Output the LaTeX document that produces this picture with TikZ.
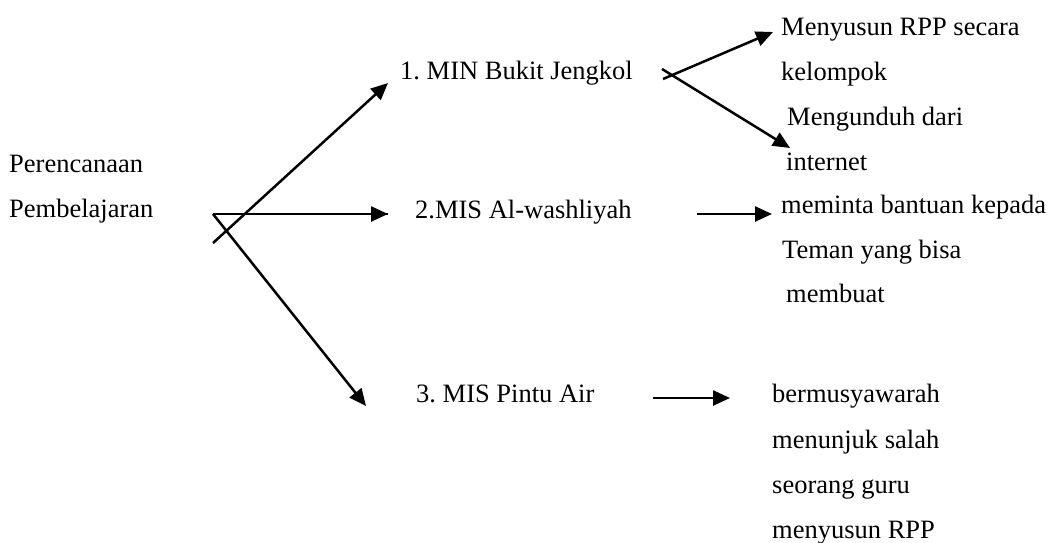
\documentclass[tikz,border=0pt]{standalone}
\usepackage{fontspec}
\setmainfont{Liberation Serif}
\usetikzlibrary{arrows.meta,positioning}
\tikzset
{
    textnode/.style = {anchor=base west, inner sep=0pt, font=\fontsize{26.5}{45}\selectfont},
    arrowline/.style = {line width=2.5pt, -{Triangle[length=17pt,width=15pt]}},
    plainline/.style = {line width=2.5pt}
}

\begin{document}
\frenchspacing
\begin{tikzpicture}[x=1pt, y=-1pt]
\useasboundingbox (0,0) rectangle (1048,542);
% left side
\node[textnode] (perencanaan) at (9,172) {Perencanaan};
\node[textnode] (pembelajaran) at (9,217) {Pembelajaran};
% schools
\node[textnode] (min) at (400,79) {1. MIN Bukit Jengkol};
\node[textnode] (mis1) at (415,218) {2.MIS Al-washliyah};
\node[textnode] (mis2) at (416,402) {3. MIS Pintu Air};
% answers
\node[textnode] (rppA) at (781,35) {Menyusun RPP secara};
\node[textnode] (rppB) at (781,80) {kelompok};
\node[textnode] (unduhA) at (787,125) {Mengunduh dari};
\node[textnode] (unduhB) at (786,170) {internet};
\node[textnode] (mintaA) at (781,213) {meminta bantuan kepada};
\node[textnode] (mintaB) at (782,258) {Teman yang bisa};
\node[textnode] (mintaC) at (786,302) {membuat};
\node[textnode] (musyA) at (772,402) {bermusyawarah};
\node[textnode] (musyB) at (772,448) {menunjuk salah};
\node[textnode] (musyC) at (772,493) {seorang guru};
\node[textnode] (musyD) at (772,538) {menyusun RPP};
% arrow ends
\coordinate (fanA) at (213,214);
\coordinate (fanB) at (213,243);
\coordinate (tipMin) at (388,83);
\coordinate (tipMis1) at (388,214);
\coordinate (tipMis2) at (366,406);
\coordinate (fanC) at (663,79);
\coordinate (fanD) at (662,69);
\coordinate (tipRpp) at (773,32);
\coordinate (tipUnduh) at (790,148);
\coordinate (fromMis1) at (697,214);
\coordinate (tipMinta) at (772,214);
\coordinate (fromMis2) at (653,398);
\coordinate (tipMusy) at (730,398);
% connectors
\draw[plainline] (fanA) -- (fanA -| tipMis1);
\draw[arrowline] (fanB) -- (tipMin);
\draw[arrowline] (fanA) -- (tipMis1);
\draw[arrowline] (fanA) -- (tipMis2);
\draw[arrowline] (fanC) -- (tipRpp);
\draw[arrowline] (fanD) -- (tipUnduh);
\draw[arrowline] (fromMis1) -- (tipMinta);
\draw[arrowline] (fromMis2) -- (tipMusy);
\end{tikzpicture}
\end{document}
